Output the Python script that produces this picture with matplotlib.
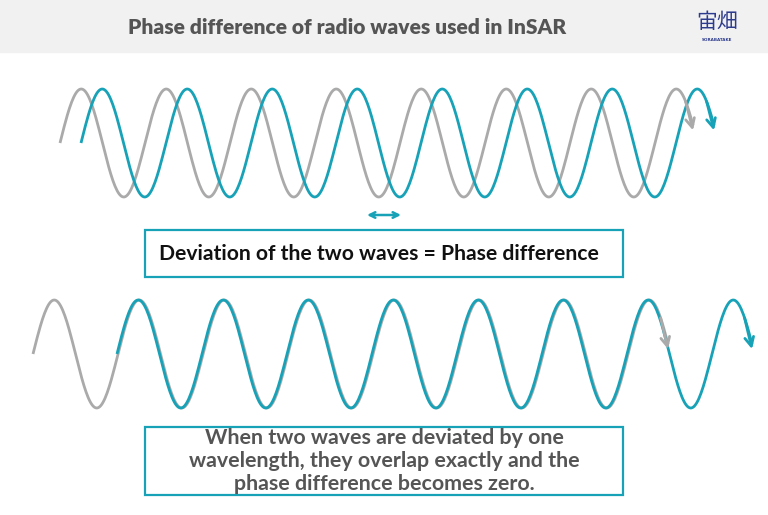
import numpy as np
import matplotlib.pyplot as plt
from matplotlib.patches import Rectangle

W, H = 768, 515

TEAL = "#17a2b8"
GRAY = "#aaaaaa"
TEXT_GRAY = "#555555"

title = "Phase difference of radio waves used in InSAR"
box1_text = "Deviation of the two waves = Phase difference"
box2_text = ("When two waves are deviated by one\n"
             "wavelength, they overlap exactly and the\n"
             "phase difference becomes zero.")

# wave parameters (pixel space): start x, end x, midline y
top_gray = [60, 693, 143]
top_teal = [81, 714, 143]
bottom_gray = [33, 668, 354]
bottom_teal = [117, 752, 354]
period = 85.0
amplitude = 54.0


def wave(ax, params, color, lw=2.0):
    x0, x1, mid = params
    x = np.linspace(x0, x1, 600)
    y = mid - amplitude * np.sin(2 * np.pi * (x - x0) / period)
    ax.plot(x, y, color=color, lw=lw, solid_capstyle="butt", zorder=3)
    # open arrow head at the end of the wave
    ax.annotate("", xy=(x[-1], y[-1] + 5), xytext=(x[-8], y[-8]),
                arrowprops=dict(arrowstyle="->", color=color, lw=lw,
                                mutation_scale=16, shrinkA=0, shrinkB=0),
                zorder=4)


fig = plt.figure(figsize=(W / 100, H / 100), dpi=100)
ax = fig.add_axes([0, 0, 1, 1])
ax.set_xlim(0, W)
ax.set_ylim(H, 0)
ax.axis("off")

# header band
ax.add_patch(Rectangle((0, 0), W, 52, color="#f1f1f1", zorder=0))
ax.text(347, 27, title, ha="center", va="center", fontsize=15.1,
        fontweight="heavy", color=TEXT_GRAY, family="Lato")

# logo
ax.text(717, 22, "宙畑", ha="center", va="center", fontsize=15,
        color="#2d3b8e", family=["Noto Sans CJK JP", "DejaVu Sans"])
ax.text(717, 40, "SORABATAKE", ha="center", va="center", fontsize=3,
        color="#2d3b8e", fontweight="bold")

# top waves
wave(ax, top_gray, GRAY)
wave(ax, top_teal, TEAL)

# double arrow showing the shift
ax.annotate("", xy=(401, 215), xytext=(367, 215),
            arrowprops=dict(arrowstyle="<->", color=TEAL, lw=1.8,
                            mutation_scale=10, shrinkA=0, shrinkB=0))

# box 1
ax.add_patch(Rectangle((145, 230), 478, 47, fill=False, ec=TEAL, lw=1.6,
                       zorder=2))
ax.text(159, 253.5, box1_text, ha="left", va="center", fontsize=15.2,
        fontweight="bold", color="#111111", family="Lato")

# bottom waves
wave(ax, bottom_gray, GRAY)
wave(ax, bottom_teal, TEAL)

# box 2
ax.add_patch(Rectangle((145, 427), 478, 68, fill=False, ec=TEAL, lw=1.6,
                       zorder=2))
ax.text(384, 461, box2_text, ha="center", va="center", fontsize=15.4,
        fontweight="bold", color=TEXT_GRAY, family="Lato",
        linespacing=1.18)

fig.savefig("out.png", dpi=100, facecolor="white")
